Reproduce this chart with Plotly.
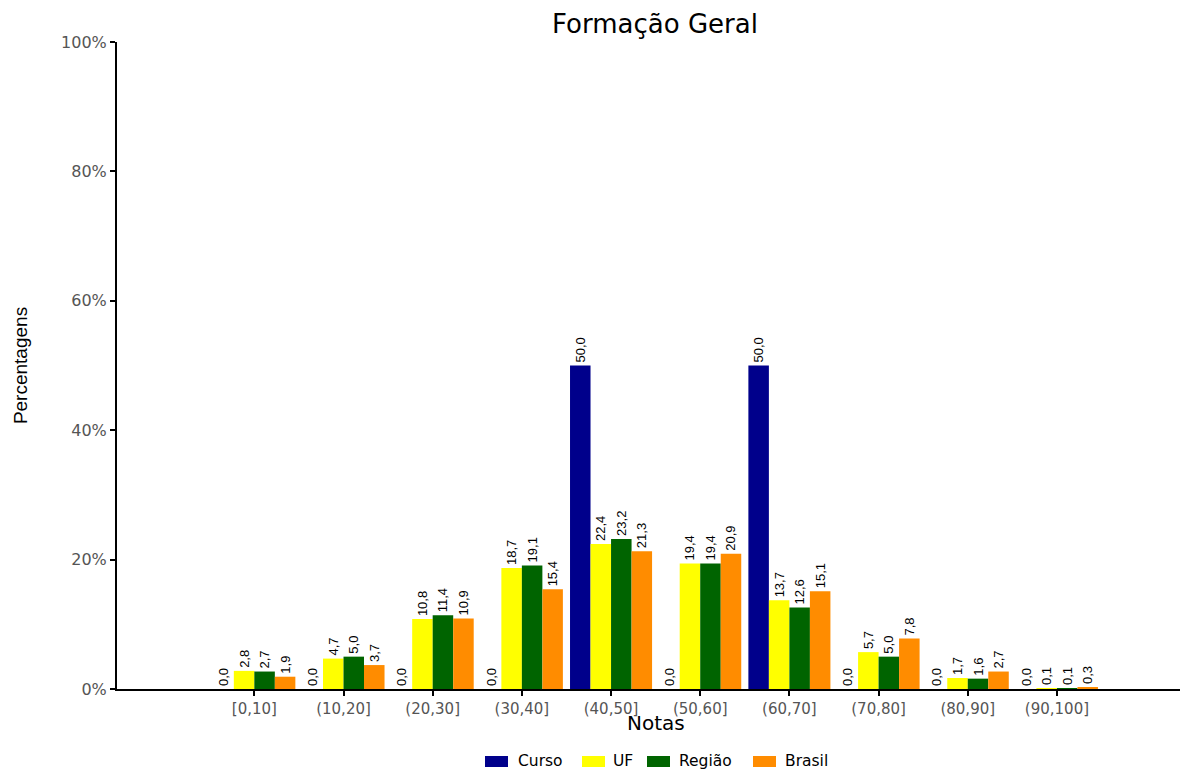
import plotly.graph_objects as go

categories = ["[0,10]", "(10,20]", "(20,30]", "(30,40]", "(40,50]",
              "(50,60]", "(60,70]", "(70,80]", "(80,90]", "(90,100]"]
series_names = ["Curso", "UF", "Região", "Brasil"]
curso = [0.0, 0.0, 0.0, 0.0, 50.0, 0.0, 50.0, 0.0, 0.0, 0.0]
uf = [2.8, 4.7, 10.8, 18.7, 22.4, 19.4, 13.7, 5.7, 1.7, 0.1]
regiao = [2.7, 5.0, 11.4, 19.1, 23.2, 19.4, 12.6, 5.0, 1.6, 0.1]
brasil = [1.9, 3.7, 10.9, 15.4, 21.3, 20.9, 15.1, 7.8, 2.7, 0.3]
colors = ["#00008B", "#FFFF00", "#006400", "#FF8C00"]
y_ticks = [0, 20, 40, 60, 80, 100]
y_tick_labels = ["0%", "20%", "40%", "60%", "80%", "100%"]

wide = "DejaVu Sans, Liberation Sans, sans-serif"
arial = "Liberation Sans, Arial, sans-serif"

W, H = 1184, 769
ML, MR, MT, MB = 117, 4, 42, 80
PW, PH = W - ML - MR, H - MT - MB


def px_x(px):
    return (px - ML) / PW


def px_y(py):
    return (H - MB - py) / PH


fig = go.Figure()
for name, vals, col in zip(series_names, [curso, uf, regiao, brasil], colors):
    fig.add_trace(go.Bar(
        x=categories, y=vals, name=name, marker_color=col,
        marker_line_width=0, showlegend=False,
        texttemplate="%{y:.1f}", textposition="outside", textangle=-90,
        textfont=dict(family=arial, size=13, color="black"),
        constraintext="none", cliponaxis=False,
    ))

# manual legend (wide rectangular keys like the reference)
legend_rect_x = [485, 582, 647, 753]
legend_text_x = [516, 611, 677, 783]
shapes = []
annotations = []
for name, col, rx, tx in zip(series_names, colors, legend_rect_x, legend_text_x):
    shapes.append(dict(type="rect", xref="paper", yref="paper",
                       x0=px_x(rx), x1=px_x(rx + 23), y0=px_y(767), y1=px_y(756),
                       fillcolor=col, line=dict(width=0)))
    annotations.append(dict(text=name, xref="paper", yref="paper",
                            x=px_x(tx), y=px_y(760.5), xanchor="left", yanchor="middle",
                            showarrow=False,
                            font=dict(family=wide, size=15.5, color="black")))

# x-axis title placed as annotation
annotations.append(dict(text="Notas", xref="paper", yref="paper",
                        x=px_x(656), y=px_y(723), xanchor="center", yanchor="middle",
                        showarrow=False,
                        font=dict(family=wide, size=20, color="black")))

fig.update_layout(
    width=W, height=H,
    barmode="group", bargap=0.08, bargroupgap=0,
    separators=",.",
    plot_bgcolor="white", paper_bgcolor="white",
    margin=dict(l=ML, r=MR, t=MT, b=MB, autoexpand=False),
    showlegend=False,
    shapes=shapes, annotations=annotations,
    title=dict(text="Formação Geral", x=px_x(655), xanchor="center", xref="paper",
               y=1 - 24 / H, yanchor="middle", automargin=False,
               font=dict(family=wide, size=26, color="black")),
    xaxis=dict(range=[-1.54, 10.38], showline=True, linecolor="black", linewidth=2,
               ticks="outside", ticklen=5, tickcolor="black", tickwidth=1.5,
               tickfont=dict(family=wide, size=15, color="#555555"),
               showgrid=False, zeroline=False, automargin=False),
    yaxis=dict(range=[0, 100], tickmode="array", tickvals=y_ticks, ticktext=y_tick_labels,
               showline=True, linecolor="black", linewidth=2,
               ticks="outside", ticklen=5, tickcolor="black", tickwidth=1.5,
               tickfont=dict(family=wide, size=16, color="#555555"),
               title=dict(text="Percentagens", standoff=28,
                          font=dict(family=arial, size=19, color="black")),
               showgrid=False, zeroline=False, automargin=False),
)

fig.write_html("out.html", config={"displayModeBar": False},
               post_script="document.body.style.margin='0px';")
